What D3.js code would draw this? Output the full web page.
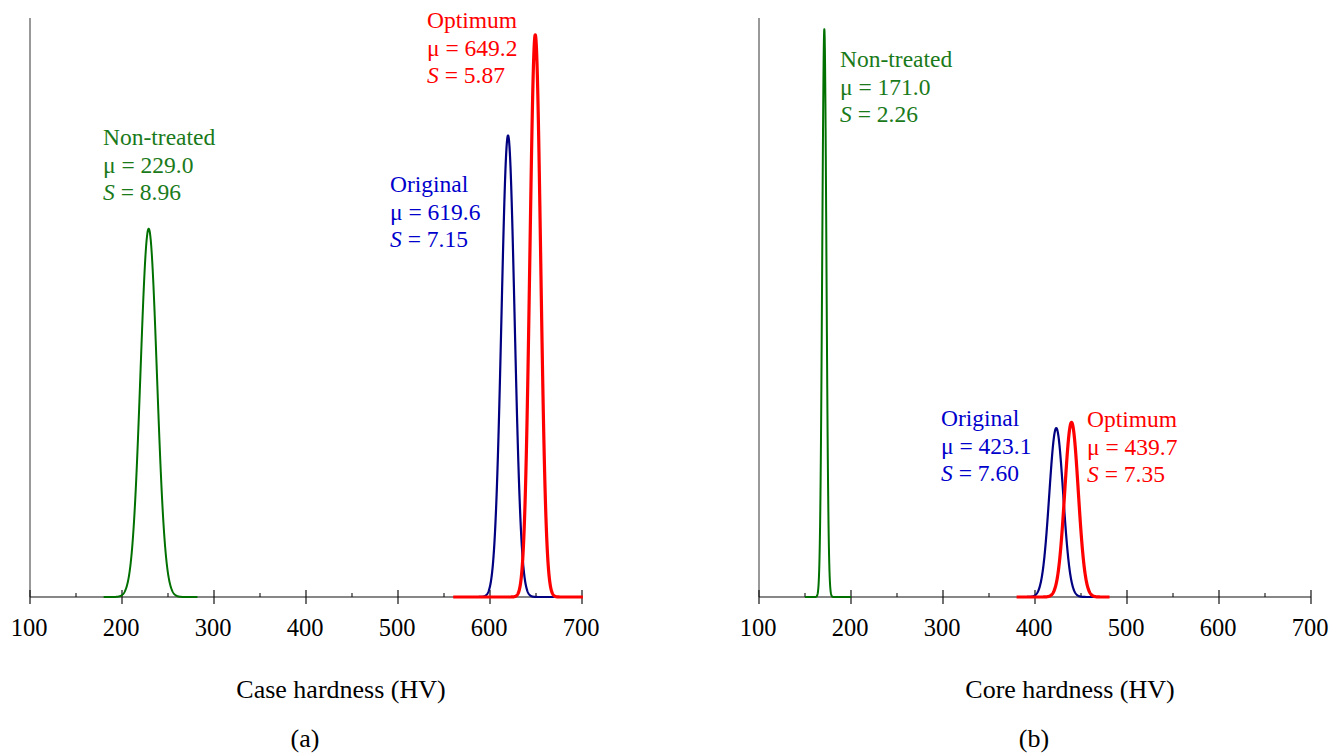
<!DOCTYPE html>
<html>
<head>
<meta charset="utf-8">
<script src="https://cdn.jsdelivr.net/npm/d3@7"></script>
<style>
  html, body { margin: 0; padding: 0; background: #fff; }
  svg { display: block; font-family: "Liberation Serif", "Times New Roman", serif; }
</style>
</head>
<body>
<svg id="chart" width="1335" height="755"></svg>
<script>
// hardness distributions (mean and S printed on it)
const panels = ['a', 'b'];
const axisTitles = ['Case hardness (HV)', 'Core hardness (HV)'];
const panelLabels = ['(a)', '(b)'];
const xTicks = [100, 200, 300, 400, 500, 600, 700];
const xMinorTicks = [150, 250, 350, 450, 550, 650];
const yMax = [0.070, 0.180];

const seriesNames = ['Non-treated', 'Original', 'Optimum'];
const seriesColors = ['#007000', '#000080', '#ff0000'];
const labelColors = ['#1a7a1a', '#0000cc', '#ff0000'];
const seriesWidths = [2, 2.2, 3.2];

const meansA = [229.0, 619.6, 649.2];
const sA = [8.96, 7.15, 5.87];
const rangesA = [[180, 282], [570, 670], [560, 701]];
const labelPosA = [[103, 145], [390, 192], [427, 28]];

const meansB = [171.0, 423.1, 439.7];
const sB = [2.26, 7.60, 7.35];
const rangesB = [[150, 200], [382, 470], [380, 481]];
const labelPosB = [[840, 67], [941, 426], [1087, 427]];

const svg = d3.select('#chart');
const FONT = 23.5;
const TICK_FONT = 24.5;
const TITLE_FONT = 26;
const LINE_GAP = 27.5;
const baseY = 597;
const topY = 18;

const frames = [
  { x0: 30, x1: 582, means: meansA, s: sA, ranges: rangesA, labelPos: labelPosA },
  { x0: 759, x1: 1311, means: meansB, s: sB, ranges: rangesB, labelPos: labelPosB }
];

function normalPdf(x, mu, sd) {
  const z = (x - mu) / sd;
  return Math.exp(-0.5 * z * z) / (sd * Math.sqrt(2 * Math.PI));
}

frames.forEach((f, pi) => {
  const x = d3.scaleLinear().domain([100, 700]).range([f.x0, f.x1]);
  const y = d3.scaleLinear().domain([0, yMax[pi]]).range([baseY, topY]);
  const g = svg.append('g').attr('class', `panel panel--${panels[pi]}`);

  // y axis line (no ticks)
  g.append('line')
    .attr('x1', f.x0).attr('x2', f.x0)
    .attr('y1', topY).attr('y2', baseY)
    .attr('stroke', '#777').attr('stroke-width', 1.5);

  // x axis
  g.append('line')
    .attr('x1', f.x0).attr('x2', f.x1)
    .attr('y1', baseY).attr('y2', baseY)
    .attr('stroke', '#111').attr('stroke-width', 1.2);

  g.selectAll('line.major')
    .data(xTicks)
    .join('line')
    .attr('class', 'major')
    .attr('x1', (d) => x(d)).attr('x2', (d) => x(d))
    .attr('y1', baseY - 7).attr('y2', baseY + 7)
    .attr('stroke', '#111').attr('stroke-width', 1.2);

  g.selectAll('line.minor')
    .data(xMinorTicks)
    .join('line')
    .attr('class', 'minor')
    .attr('x1', (d) => x(d)).attr('x2', (d) => x(d))
    .attr('y1', baseY - 4).attr('y2', baseY)
    .attr('stroke', '#111').attr('stroke-width', 1.1);

  g.selectAll('text.tick')
    .data(xTicks)
    .join('text')
    .attr('class', 'tick')
    .attr('x', (d) => x(d) - 1)
    .attr('y', 636)
    .attr('text-anchor', 'middle')
    .attr('font-size', TICK_FONT)
    .text((d) => d);

  g.append('text')
    .attr('x', (f.x0 + f.x1) / 2 + 35)
    .attr('y', 698)
    .attr('text-anchor', 'middle')
    .attr('font-size', TITLE_FONT)
    .text(axisTitles[pi]);

  g.append('text')
    .attr('x', (f.x0 + f.x1) / 2 - 1)
    .attr('y', 747)
    .attr('text-anchor', 'middle')
    .attr('font-size', TITLE_FONT)
    .text(panelLabels[pi]);

  // density curves
  const line = d3.line().x((d) => x(d[0])).y((d) => y(d[1]));
  seriesNames.forEach((name, si) => {
    const [lo, hi] = f.ranges[si];
    const pts = d3.range(lo, hi + 0.001, 0.2).map((v) => [v, normalPdf(v, f.means[si], f.s[si])]);
    g.append('path')
      .attr('d', line(pts))
      .attr('fill', 'none')
      .attr('stroke', seriesColors[si])
      .attr('stroke-width', seriesWidths[si])
      .attr('stroke-linejoin', 'round');
  });

  // annotations
  seriesNames.forEach((name, si) => {
    const [lx, ly] = f.labelPos[si];
    const t = g.append('text')
      .attr('font-size', FONT)
      .attr('fill', labelColors[si]);
    t.append('tspan').attr('x', lx).attr('y', ly).text(name);
    t.append('tspan').attr('x', lx).attr('y', ly + LINE_GAP)
      .text(`\u03bc = ${f.means[si].toFixed(1)}`);
    const s = t.append('tspan').attr('x', lx).attr('y', ly + 2 * LINE_GAP);
    s.append('tspan').attr('font-style', 'italic').text('S');
    s.append('tspan').text(` = ${f.s[si].toFixed(2)}`);
  });
});
</script>
</body>
</html>
